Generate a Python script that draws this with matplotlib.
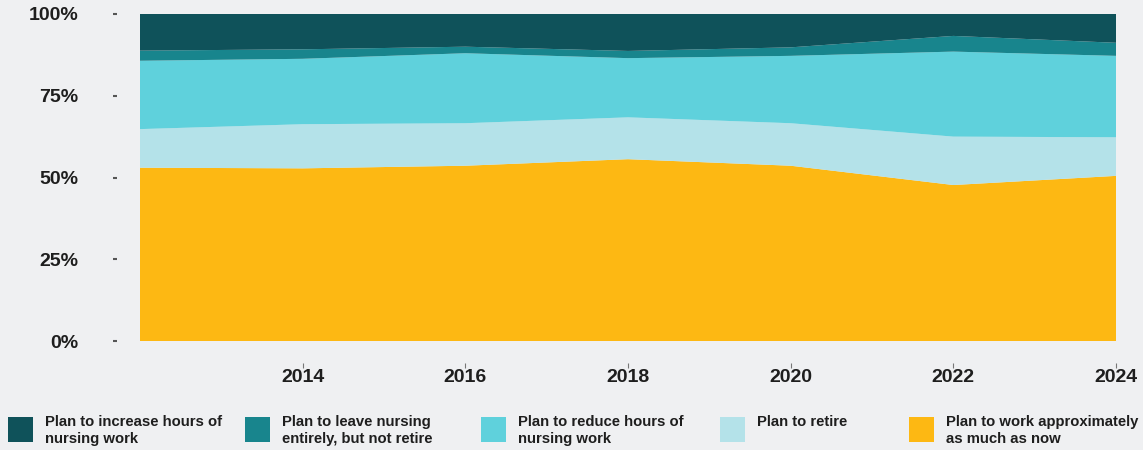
import matplotlib.pyplot as plt
from matplotlib.patches import Rectangle

# survey years and share of nurses (%) by plan, bottom layer first
years = [2012, 2014, 2016, 2018, 2020, 2022, 2024]
work_same = [53.0, 52.8, 53.6, 55.6, 53.6, 47.7, 50.5]
retire = [11.8, 13.5, 13.0, 12.8, 13.0, 14.8, 11.8]
reduce_hours = [20.9, 20.0, 21.4, 18.1, 20.6, 26.0, 24.9]
leave = [3.1, 2.9, 2.0, 2.2, 2.6, 4.8, 4.0]
increase = [11.2, 10.8, 10.0, 11.3, 10.2, 6.7, 8.8]

series_labels = ['Plan to increase hours of\nnursing work',
                 'Plan to leave nursing\nentirely, but not retire',
                 'Plan to reduce hours of\nnursing work',
                 'Plan to retire',
                 'Plan to work approximately\nas much as now']
series_colors = ['#0f525a', '#18858d', '#5fd1dc', '#b4e2e9', '#fdb813']

yticks = [0, 25, 50, 75, 100]
xticks = [2014, 2016, 2018, 2020, 2022, 2024]

bg = '#eff0f2'
txt = '#1e1e1e'
plt.rcParams['font.family'] = ['Liberation Sans', 'DejaVu Sans']

fig = plt.figure(figsize=(11.43, 4.5), dpi=100, facecolor=bg)
ax = fig.add_axes([140 / 1143, 1 - 341 / 450, (1116 - 140) / 1143, (341 - 14) / 450])
ax.set_facecolor(bg)

ax.stackplot(years, work_same, retire, reduce_hours, leave, increase,
             colors=series_colors[::-1], linewidth=0)

ax.set_xlim(years[0], years[-1])
ax.set_ylim(0, 100)
for s in ax.spines.values():
    s.set_visible(False)
# spines pushed away from the data area (values in points)
ax.spines['left'].set_position(('outward', 16.6))
ax.spines['bottom'].set_position(('outward', 15.8))

ax.set_yticks(yticks)
ax.set_yticklabels([f'{v}%' for v in yticks], fontsize=14, fontweight='bold', color=txt)
ax.set_xticks(xticks)
ax.set_xticklabels([str(v) for v in xticks], fontsize=14, fontweight='bold', color=txt)
ax.tick_params(axis='y', length=3, width=1.5, color='#555555', pad=24.5)
ax.tick_params(axis='x', length=3.6, width=0.8, color='#777777', direction='out', pad=0.5)

# legend laid out along the bottom edge
legend_x = [8, 245, 481, 720, 909]
for (x, lab, col) in zip(legend_x, series_labels, series_colors):
    fig.patches.append(Rectangle((x / 1143, 1 - 442 / 450), 25 / 1143, 25 / 450,
                                 transform=fig.transFigure, facecolor=col,
                                 edgecolor='none'))
    fig.text((x + 37) / 1143, 1 - 415 / 450, lab, fontsize=10.7, fontweight='bold',
             color=txt, va='top', ha='left', linespacing=1.3)

fig.savefig('out.png', dpi=100, facecolor=bg)
